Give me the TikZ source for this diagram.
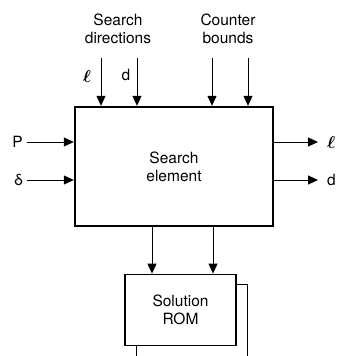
\documentclass[tikz,border=0pt]{standalone}
\usepackage{amsmath}
\usepackage{bm}
\usepackage{fontspec}
\setmainfont{TeX Gyre Heros}
\usetikzlibrary{arrows.meta,positioning,calc}

\begin{document}
\begin{tikzpicture}[x=1pt,y=-1pt]
\tikzset{
     block/.style={draw, line width=2.4pt, inner sep=0pt},
     feed/.style={-{Triangle[length=10pt,width=9pt]}, line width=1pt},
     lbl/.style={font=\fontsize{15.5}{18}\selectfont, align=center, inner sep=0pt},
     ell/.style={font=\fontsize{19}{20}\selectfont, inner sep=0pt}}

\useasboundingbox (0,0) rectangle (340,356);

% The blocks
\node (search) [block, lbl, minimum width=198pt, minimum height=119pt] at (174,166.5) {Search\\element};
\node (rom) [block, lbl, line width=1.8pt, minimum width=111pt, minimum height=71pt] at (180.5,310) {Solution\\ROM};

% second ROM sheet behind the first one
\draw [line width=1pt] ([xshift=12pt]rom.south west) -- ++(0,12);
\draw [line width=1pt] ($(rom.north east)+(0,11)$) -- ++(11,0) -- ++(0,72);

% The inputs on top
\node (dirs) [lbl] at (118,29) {Search\\directions};
\node (bounds) [lbl] at (228,29) {Counter\\bounds};

\coordinate (l in) at (101,58);
\coordinate (d in) at (137,58);
\coordinate (c in) at (212,58);
\coordinate (b in) at (248,58);
\foreach \p in {l in, d in, c in, b in}
  \draw [feed] (\p) -- (\p |- search.north);

\node at (87,76) [ell] {$\bm{\ell}$};
\node at (126,75) [lbl] {d};

% The inputs on the left
\coordinate (p in) at (27,142);
\coordinate (delta in) at (27,180);
\draw [feed] (p in) -- (p in -| search.west);
\draw [feed] (delta in) -- (delta in -| search.west);
\node [lbl, left=4pt of p in] {P};
\node [lbl, left=4pt of delta in] {δ};

% The outputs on the right
\coordinate (l out) at (318,142);
\coordinate (d out) at (318,180);
\draw [feed] (l out -| search.east) -- (l out);
\draw [feed] (d out -| search.east) -- (d out);
\node [ell, right=9pt of l out] {$\bm{\ell}$};
\node [lbl, right=9pt of d out] {d};

% Search element to ROM
\draw [feed] ([xshift=-28.5pt]rom.north |- search.south) -- ([xshift=-28.5pt]rom.north);
\draw [feed] ([xshift=32.5pt]rom.north |- search.south) -- ([xshift=32.5pt]rom.north);
\end{tikzpicture}
\end{document}
